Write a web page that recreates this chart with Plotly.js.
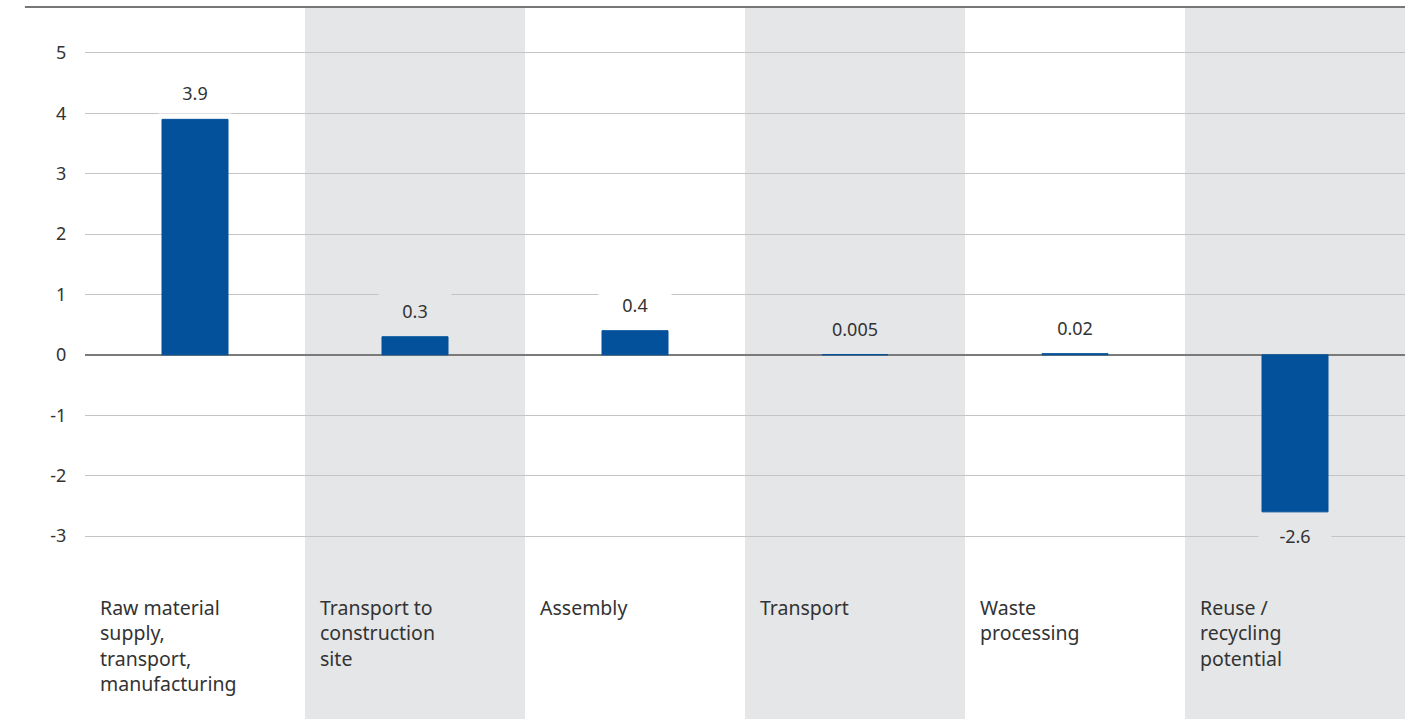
<!DOCTYPE html>
<html>
<head>
<meta charset="utf-8">
<script src="https://cdn.plot.ly/plotly-3.0.1.min.js"></script>
<style>
  html, body { margin: 0; padding: 0; background: #ffffff; }
  #chart { width: 1415px; height: 719px; }
</style>
</head>
<body>
<div id="chart"></div>
<script>
// ---- Data ----
var categories = [
  "Raw material<br>supply,<br>transport,<br>manufacturing",
  "Transport to<br>construction<br>site",
  "Assembly",
  "Transport",
  "Waste<br>processing",
  "Reuse /<br>recycling<br>potential"
];
var values = [3.9, 0.3, 0.4, 0.005, 0.02, -2.6];
var valueLabels = ["3.9", "0.3", "0.4", "0.005", "0.02", "-2.6"];
var yTicks = [-3, -2, -1, 0, 1, 2, 3, 4, 5];

// ---- Styling ----
var BAR = "#03519b";
var BAND = "#e5e6e8";
var TEXT = "#333333";
var FONT = "Noto Sans, sans-serif";

var idx = categories.map(function (_, i) { return i; });

var trace = {
  type: "bar",
  x: idx,
  y: values,
  width: 0.3,
  marker: { color: BAR, line: { color: BAR, width: 1 } },
  hoverinfo: "skip"
};

var shapes = [];
idx.forEach(function (i) {
  if (i % 2 === 1) {
    shapes.push({
      type: "rect", layer: "below",
      xref: "x", yref: "paper",
      x0: i - 0.5, x1: i + 0.5, y0: 0, y1: 1,
      fillcolor: BAND, line: { width: 0 }
    });
  }
});
// top rule
shapes.push({
  type: "line", xref: "paper", yref: "paper",
  x0: -0.0455, x1: 1, y0: 1, y1: 1,
  line: { color: "#777777", width: 2 }
});

var annotations = [];
idx.forEach(function (i) {
  var v = values[i];
  annotations.push({
    x: i, y: v, xref: "x", yref: "y",
    text: valueLabels[i],
    showarrow: false,
    yanchor: "middle",
    yshift: v >= 0 ? 26 : -24,
    width: 70, height: 38,
    bgcolor: (i % 2 === 1) ? BAND : "#ffffff",
    font: { family: FONT, size: 18, color: TEXT }
  });
  annotations.push({
    x: i - 0.5, y: -3.93, xref: "x", yref: "y",
    text: categories[i],
    showarrow: false,
    xanchor: "left", yanchor: "top", align: "left",
    xshift: 13,
    font: { family: FONT, size: 19.5, color: TEXT }
  });
});

var layout = {
  width: 1415, height: 719,
  margin: { l: 85, r: 10, t: 7, b: 0, pad: 0 },
  paper_bgcolor: "#ffffff",
  plot_bgcolor: "rgba(0,0,0,0)",
  showlegend: false,
  bargap: 0,
  xaxis: {
    type: "linear",
    range: [-0.5, 5.5],
    showgrid: false, zeroline: false, showline: false,
    showticklabels: false, ticks: "",
    fixedrange: true
  },
  yaxis: {
    range: [-6.03, 5.76],
    tickvals: yTicks,
    ticktext: yTicks.map(String),
    showgrid: true, gridcolor: "#c4c4c4", gridwidth: 1,
    zeroline: true, zerolinecolor: "#7a7a7a", zerolinewidth: 1.5,
    showline: false,
    ticks: "outside", ticklen: 14, tickcolor: "rgba(0,0,0,0)",
    tickfont: { family: FONT, size: 18, color: TEXT },
    fixedrange: true
  },
  shapes: shapes,
  annotations: annotations
};

Plotly.newPlot("chart", [trace], layout, { displayModeBar: false, staticPlot: true });
</script>
</body>
</html>
